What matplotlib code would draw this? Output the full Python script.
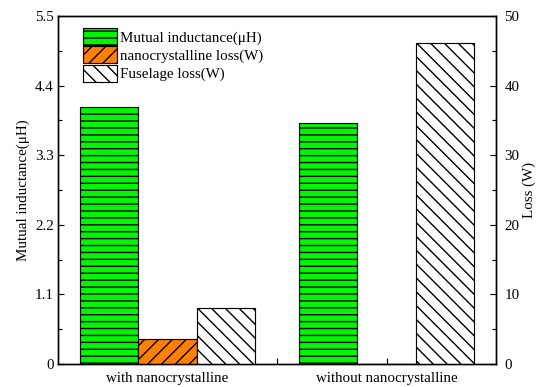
import numpy as np
import matplotlib
matplotlib.use('Agg')
import matplotlib.pyplot as plt
from matplotlib.ticker import MultipleLocator, FixedLocator

# --- data ---
groups = ['with nanocrystalline', 'without nanocrystalline']
inductance = [4.06, 3.81]          # uH, left axis
nano_loss = [3.55, 0.0]            # W, right axis
fuselage_loss = [8.1, 46.1]        # W, right axis

plt.rcParams['font.family'] = ['Liberation Serif', 'DejaVu Serif']
plt.rcParams['hatch.linewidth'] = 1.2
plt.rcParams['mathtext.fontset'] = 'stix'

DPI = 83
fig = plt.figure(figsize=(537 / DPI, 387 / DPI), dpi=DPI)
ax = fig.add_axes([0.108, 0.0594, 0.816, 0.8993])
ax2 = ax.twinx()

x = np.arange(1, len(groups) + 1)
w = 0.8 / 3

b1 = ax.bar(x - w, inductance, w, color='#00f500', edgecolor='black',
            hatch='--', linewidth=1.0, label='Mutual inductance(μH)')
b2 = ax2.bar(x, nano_loss, w, color='#ff8000', edgecolor='black',
             hatch='//', linewidth=1.0, label='nanocrystalline loss(W)')
b3 = ax2.bar(x + w, fuselage_loss, w, color='white', edgecolor='black',
             hatch='\\\\', linewidth=1.0, label='Fuselage loss(W)')

ax.set_xlim(0.5, 2.5)
ax.set_ylim(0, 5.5)
ax2.set_ylim(0, 50)

ax.set_xticks(x)
ax.set_xticklabels(groups)
ax.xaxis.set_minor_locator(FixedLocator([1.5]))
ax.yaxis.set_major_locator(FixedLocator([0, 1.1, 2.2, 3.3, 4.4, 5.5]))
ax.set_yticklabels(['0', '1.1', '2.2', '3.3', '4.4', '5.5'])
ax.yaxis.set_minor_locator(MultipleLocator(0.55))
ax2.yaxis.set_major_locator(MultipleLocator(10))
ax2.yaxis.set_minor_locator(MultipleLocator(5))

fs = 13
for a in (ax, ax2):
    a.tick_params(which='both', direction='in', labelsize=fs, width=1.0)
    a.tick_params(which='major', length=5)
    a.tick_params(which='minor', length=3.5)
    for s in a.spines.values():
        s.set_linewidth(1.2)
ax.tick_params(axis='x', which='both', length=5, top=False, pad=7)
ax.tick_params(axis='y', right=False)
ax2.tick_params(axis='y', left=False, pad=7)

ax.set_ylabel('Mutual inductance(μH)', fontsize=fs, labelpad=4)
ax2.set_ylabel('Loss (W)', fontsize=fs, labelpad=3)

ax2.legend([b1, b2, b3], [b1.get_label(), b2.get_label(), b3.get_label()],
           loc='upper left', frameon=False, fontsize=fs,
           handlelength=2.3, handleheight=1.35, handletextpad=0.2,
           labelspacing=0.1, borderaxespad=0, borderpad=0,
           bbox_to_anchor=(0.057, 0.965))

fig.savefig('out.png', dpi=DPI)
